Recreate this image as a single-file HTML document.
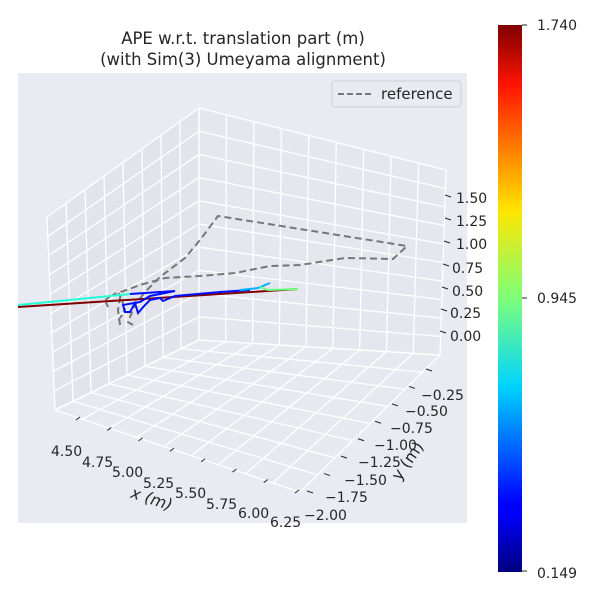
<!DOCTYPE html><html><head><style>body{margin:0;background:#fff}svg text{font-family:"DejaVu Sans","Liberation Sans",sans-serif;fill:#262626}</style></head><body>
<svg id="s" width="600" height="600" xmlns="http://www.w3.org/2000/svg">
<defs><linearGradient id="jet" x1="0" y1="1" x2="0" y2="0">
<stop offset="0" stop-color="#00007f"/><stop offset="0.11" stop-color="#0000ff"/><stop offset="0.125" stop-color="#0000ff"/><stop offset="0.34" stop-color="#00d4ff"/><stop offset="0.5" stop-color="#7dff7a"/><stop offset="0.66" stop-color="#ffe600"/><stop offset="0.89" stop-color="#ff1300"/><stop offset="1" stop-color="#7f0000"/></linearGradient></defs>
<rect x="18" y="73" width="449" height="450" fill="#eaeaf2"/>
<g id="g"></g>
<polyline fill="none" stroke="#777" stroke-width="2" stroke-dasharray="7,4" points="120,325 118,310 121,292 140,285 165,278 200,276 235,273 270,266 300,265 345,258 393,259 407,246 218,216 200,240 185,258 160,277 145,292 135,305 128,322 133,325"/>
<polyline fill="none" stroke="#777" stroke-width="2" stroke-dasharray="5,3" points="108,307 105,300 118,292 122,300 125,310 120,318"/>
<line x1="18" y1="307" x2="298" y2="289" stroke="#7f0000" stroke-width="2"/>
<line x1="18" y1="305" x2="130" y2="294" stroke="#20ffd8" stroke-width="2"/>
<polyline fill="none" stroke="#0010ff" stroke-width="2" points="130,294 175,291 150,296 140,302 123,305 125,312 130,312 135,303 138,313 145,305 150,300 160,298 163,301 175,296 220,292 250,290"/>
<polyline fill="none" stroke="#00b4ff" stroke-width="2" points="240,290 258,288 270,283"/>
<polyline fill="none" stroke="#6cff80" stroke-width="2" points="260,287 268,290 298,289"/>
<text x="243" y="44" font-size="16.5" text-anchor="middle">APE w.r.t. translation part (m)</text>
<text x="243" y="65" font-size="16.5" text-anchor="middle">(with Sim(3) Umeyama alignment)</text>
<rect x="332" y="81" width="129" height="26" rx="3" fill="#eaeaf2" stroke="#cfcfd8"/>
<line x1="338" y1="94" x2="372" y2="94" stroke="#777" stroke-width="2" stroke-dasharray="6,3"/>
<text x="381" y="99" font-size="15">reference</text>
<g stroke="#262626">
<line x1="445" y1="195" x2="451" y2="197"/><line x1="445" y1="218" x2="451" y2="220"/><line x1="444" y1="241" x2="450" y2="243"/><line x1="443" y1="264" x2="449" y2="266"/><line x1="442" y1="287" x2="448" y2="289"/><line x1="441" y1="309" x2="447" y2="311"/><line x1="440" y1="331" x2="446" y2="333"/>
</g>
<g font-size="14" text-anchor="start">
<text x="456" y="203">1.50</text><text x="456" y="226">1.25</text><text x="456" y="249">1.00</text><text x="452" y="273">0.75</text><text x="452" y="296">0.50</text><text x="450" y="318">0.25</text><text x="450" y="341">0.00</text>
<text x="421" y="400">−0.25</text><text x="405" y="416">−0.50</text><text x="390" y="433">−0.75</text><text x="374" y="450">−1.00</text><text x="358" y="467">−1.25</text><text x="344" y="485">−1.50</text><text x="325" y="502">−1.75</text><text x="304" y="520">−2.00</text>
<text x="51" y="456">4.50</text><text x="82" y="467">4.75</text><text x="112" y="477">5.00</text><text x="143" y="488">5.25</text><text x="175" y="498">5.50</text><text x="206" y="509">5.75</text><text x="238" y="518">6.00</text><text x="270" y="527">6.25</text>
</g>
<text x="150" y="504" font-size="16" font-style="italic" transform="rotate(18 150 504)" text-anchor="middle">x (m)</text>
<text x="412" y="464" font-size="16" transform="rotate(-55 412 464)" text-anchor="middle">y (m)</text>
<rect x="498" y="25" width="24" height="547" fill="url(#jet)"/>
<g stroke="#262626"><line x1="522" y1="25" x2="527" y2="25"/><line x1="522" y1="298" x2="527" y2="298"/><line x1="522" y1="571" x2="527" y2="571"/></g>
<g font-size="14"><text x="537" y="30">1.740</text><text x="537" y="303">0.945</text><text x="537" y="578">0.149</text></g>
</svg>
<script>
var g=document.getElementById('g'),NS='http://www.w3.org/2000/svg';
function P(pts,f){var e=document.createElementNS(NS,'polygon');e.setAttribute('points',pts.map(p=>p.join(',')).join(' '));e.setAttribute('fill',f);g.appendChild(e);}
function L(a,b,c){var e=document.createElementNS(NS,'line');e.setAttribute('x1',a[0]);e.setAttribute('y1',a[1]);e.setAttribute('x2',b[0]);e.setAttribute('y2',b[1]);e.setAttribute('stroke',c||'#fff');e.setAttribute('stroke-width',c?'1':'1.3');g.appendChild(e);}
function m(a,b,t){return[a[0]+(b[0]-a[0])*t,a[1]+(b[1]-a[1])*t];}
var Bt=[199,108],Bb=[199,340],Lt=[47,217],Lb=[55,410],Rt=[446,170],Rb=[440,355],F=[300,492];
P([Lt,Bt,Bb,Lb],'#e3e3ec');P([Bt,Rt,Rb,Bb],'#e6e6ee');P([Lb,Bb,Rb,F],'#e8e8f0');
for(var i=0;i<=8;i++){var t=i/8;L(m(Lt,Bt,t),m(Lb,Bb,t));}
for(var i=0;i<=10;i++){var t=i/10;L(m(Lt,Lb,t),m(Bt,Bb,t));}
for(var i=0;i<=9;i++){var t=i/9;L(m(Bt,Rt,t),m(Bb,Rb,t));}
for(var i=0;i<=10;i++){var t=i/10;L(m(Bt,Bb,t),m(Rt,Rb,t));}
for(var i=0;i<=8;i++){var t=i/8;L(m(Lb,Bb,t),m(F,Rb,t));}
for(var i=0;i<=9;i++){var t=i/9;L(m(Bb,Rb,t),m(Lb,F,t));}
for(var i=0;i<8;i++){var p=m([80,417],[299,490],i/7);L([p[0],p[1]],[p[0]-4,p[1]+3],'#262626');}
for(var i=0;i<8;i++){var p=m([307,491],[426,369],i/7);L([p[0],p[1]],[p[0]+6,p[1]+2],'#262626');}
</script>
</body></html>
